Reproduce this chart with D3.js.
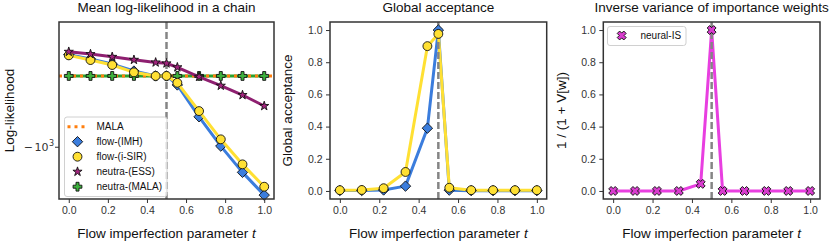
<!DOCTYPE html>
<html>
<head>
<meta charset="utf-8">
<script src="https://cdn.jsdelivr.net/npm/d3@7"></script>
<style>
  body { margin: 0; background: #fff; }
  svg { font-family: "Liberation Sans", Arial, sans-serif; }
</style>
</head>
<body>
<svg id="chart" width="830" height="242"></svg>
<script>
// flow imperfection parameter t
var tValues = [0, 1/9, 2/9, 3/9, 4/9, 0.5, 5/9, 6/9, 7/9, 8/9, 1];

// panel 1: mean log-likelihood
var malaLevel = -521;
var llIMH = [-428, -446, -467, -498, -521, -521, -566, -759, -994, -1266, -1561];
var llSIR = [-431, -450, -471, -504, -521, -521, -555, -720, -934, -1176, -1445];
var llESS = [-417, -426, -437, -449, -460, -464, -481, -525, -570, -621, -687];
var llNeutraMALA = [-521, -521, -521, -521, -521, -521, -521, -521, -521, -521, -521];

// panel 2: global acceptance
var accIMH = [0.003, 0.003, 0.006, 0.03, 0.39, 1.0, 0.005, 0.002, 0.002, 0.002, 0.002];
var accSIR = [0.005, 0.006, 0.017, 0.118, 0.90, 0.976, 0.02, 0.005, 0.005, 0.005, 0.005];

// panel 3: inverse variance of importance weights
var invVarIS = [0, 0, 0, 0, 0.044, 1.0, 0, 0, 0, 0, 0];

var xTicks = [0, 0.2, 0.4, 0.6, 0.8, 1.0];
var unitTicks = [0, 0.2, 0.4, 0.6, 0.8, 1.0];

var C = {
  blue: "#3b7ddd", yellow: "#ffe033", purple: "#8e1f70",
  green: "#2ca02c", orange: "#ff7f0e", magenta: "#e83fe0", frame: "#333"
};

var svg = d3.select("#chart");
var plotTop = 22, plotBottom = 199;

// marker paths
function diamondPath(r) { return "M0," + (-r) + "L" + r + ",0L0," + r + "L" + (-r) + ",0Z"; }
function plusPath(a, b) {
  return "M" + (-b) + "," + (-a) + "H" + b + "V" + (-b) + "H" + a + "V" + b + "H" + b + "V" + a +
    "H" + (-b) + "V" + b + "H" + (-a) + "V" + (-b) + "H" + (-b) + "Z";
}
var markers = {
  diamond: { d: diamondPath(5.2) },
  circle: { d: d3.symbol(d3.symbolCircle, 62)() },
  star: { d: d3.symbol(d3.symbolStar, 26)() },
  plus: { d: plusPath(4.4, 1.5) },
  cross: { d: plusPath(4.6, 1.7), rot: 45 }
};

function makePanel(left, right, yScale, opts) {
  var x = d3.scaleLinear().domain([-0.05, 1.05]).range([left, right]);
  var g = svg.append("g");

  g.append("text").attr("x", (left + right) / 2).attr("y", 12)
    .attr("text-anchor", "middle").attr("font-size", 13.5).attr("fill", "#111")
    .text(opts.title);

  var xAxis = g.append("g").attr("transform", "translate(0," + plotBottom + ")")
    .call(d3.axisBottom(x).tickValues(xTicks).tickFormat(d3.format(".1f")).tickSize(4).tickPadding(4));
  var yAxis = g.append("g").attr("transform", "translate(" + left + ",0)")
    .call(d3.axisLeft(yScale).tickValues(opts.yTicks).tickFormat(opts.yFormat).tickSize(4).tickPadding(3.5));
  [xAxis, yAxis].forEach(function(a) {
    a.select(".domain").remove();
    a.selectAll(".tick line").attr("stroke", C.frame).attr("stroke-width", 1);
    a.selectAll(".tick text").attr("font-size", 10.5).attr("fill", "#333")
      .attr("font-family", "Liberation Sans, Arial, sans-serif");
  });

  g.append("text").attr("x", (left + right) / 2).attr("y", 238)
    .attr("text-anchor", "middle").attr("font-size", 13.5).attr("fill", "#111")
    .call(function(t) {
      t.append("tspan").text("Flow imperfection parameter ");
      t.append("tspan").attr("font-style", "italic").text("t");
    });

  g.append("text")
    .attr("transform", "translate(" + opts.yLabelX + "," + (plotTop + plotBottom) / 2 + ") rotate(-90)")
    .attr("text-anchor", "middle").attr("font-size", 13.5).attr("fill", "#111")
    .text(opts.yLabel);

  var plot = g.append("g");
  return { x: x, y: yScale, g: g, plot: plot, left: left, right: right };
}

function drawLine(p, vals, color, width, dash) {
  var line = d3.line().x(function(d, i) { return p.x(tValues[i]); }).y(function(d) { return p.y(d); });
  p.plot.append("path").datum(vals).attr("d", line).attr("fill", "none")
    .attr("stroke", color).attr("stroke-width", width).attr("stroke-linejoin", "round")
    .attr("stroke-dasharray", dash || null);
}

function drawMarkers(p, vals, type, fill) {
  var m = markers[type];
  p.plot.append("g").selectAll("path").data(vals).join("path")
    .attr("d", m.d)
    .attr("transform", function(d, i) {
      return "translate(" + p.x(tValues[i]) + "," + p.y(d) + ")" + (m.rot ? " rotate(" + m.rot + ")" : "");
    })
    .attr("fill", fill).attr("stroke", "#111").attr("stroke-width", 0.9);
}

function drawVLine(p) {
  p.plot.append("line").attr("x1", p.x(0.5)).attr("x2", p.x(0.5)).attr("y1", plotTop).attr("y2", plotBottom)
    .attr("stroke", "#858585").attr("stroke-width", 2.5).attr("stroke-dasharray", "7,3");
}

function drawFrame(p) {
  p.g.append("rect").attr("x", p.left).attr("y", plotTop)
    .attr("width", p.right - p.left).attr("height", plotBottom - plotTop)
    .attr("fill", "none").attr("stroke", C.frame).attr("stroke-width", 1.5);
}

function legendBox(g, x, y, w, h) {
  g.append("rect").attr("x", x).attr("y", y).attr("width", w).attr("height", h).attr("rx", 2.5)
    .attr("fill", "#fff").attr("fill-opacity", 0.8).attr("stroke", "#d0d0d0").attr("stroke-width", 1);
}

function legendMarker(g, cx, cy, type, fill) {
  var m = markers[type];
  g.append("path").attr("d", m.d)
    .attr("transform", "translate(" + cx + "," + cy + ")" + (m.rot ? " rotate(" + m.rot + ")" : ""))
    .attr("fill", fill).attr("stroke", "#111").attr("stroke-width", 0.9);
}

// ---------- panel 1 ----------
var yLL = d3.scaleLog().domain([-317, -1618]).range([plotTop, plotBottom]);
var p1 = makePanel(59, 274, yLL, {
  title: "Mean log-likelihood in a chain", yLabel: "Log-likelihood", yLabelX: 14,
  yTicks: [-1000], yFormat: function() { return ""; }
});
// −10³ label with superscript (mathtext style)
p1.g.append("text").attr("x", 54).attr("y", yLL(-1000) + 4).attr("text-anchor", "end")
  .attr("font-size", 11).attr("fill", "#333").attr("font-family", "DejaVu Sans, sans-serif")
  .call(function(t) {
    t.append("tspan").text("\u2212");
    t.append("tspan").attr("dx", 1.5).text("10");
    t.append("tspan").attr("font-size", 8).attr("dy", -4.5).attr("dx", 0.5).text("3");
  });

drawLine(p1, llNeutraMALA, C.green, 3);
p1.plot.append("line").attr("x1", p1.left).attr("x2", p1.right)
  .attr("y1", yLL(malaLevel)).attr("y2", yLL(malaLevel))
  .attr("stroke", C.orange).attr("stroke-width", 3).attr("stroke-dasharray", "3,4");
drawVLine(p1);
drawMarkers(p1, llNeutraMALA, "plus", "#3db13d");
drawLine(p1, llIMH, C.blue, 3);
drawMarkers(p1, llIMH, "diamond", C.blue);
drawLine(p1, llSIR, C.yellow, 3);
drawMarkers(p1, llSIR, "circle", C.yellow);
drawLine(p1, llESS, C.purple, 3);
drawMarkers(p1, llESS, "star", "#a4247f");
drawFrame(p1);

var lg1 = p1.g.append("g");
legendBox(lg1, 64.5, 117, 102.5, 79.5);
var legendItems = [
  { label: "MALA", type: null },
  { label: "flow-(IMH)", type: "diamond", fill: C.blue },
  { label: "flow-(i-SIR)", type: "circle", fill: C.yellow },
  { label: "neutra-(ESS)", type: "star", fill: "#a4247f" },
  { label: "neutra-(MALA)", type: "plus", fill: "#3db13d" }
];
legendItems.forEach(function(it, i) {
  var cy = 126.7 + i * 15;
  if (it.type) legendMarker(lg1, 77.5, cy, it.type, it.fill);
  else lg1.append("line").attr("x1", 67.5).attr("x2", 88.5).attr("y1", cy).attr("y2", cy)
    .attr("stroke", C.orange).attr("stroke-width", 3).attr("stroke-dasharray", "3,4");
  lg1.append("text").attr("x", 96.5).attr("y", cy + 3.6).attr("font-size", 10).attr("fill", "#111").text(it.label);
});

// ---------- panel 2 ----------
var yAcc = d3.scaleLinear().domain([-0.05, 1.05]).range([plotBottom, plotTop]);
var p2 = makePanel(330, 546.7, yAcc, {
  title: "Global acceptance", yLabel: "Global acceptance", yLabelX: 292,
  yTicks: unitTicks, yFormat: d3.format(".1f")
});
drawLine(p2, accIMH, C.blue, 3);
drawLine(p2, accSIR, C.yellow, 3);
drawVLine(p2);
drawMarkers(p2, accIMH, "diamond", C.blue);
drawMarkers(p2, accSIR, "circle", C.yellow);
drawFrame(p2);

// ---------- panel 3 ----------
var yInv = d3.scaleLinear().domain([-0.05, 1.05]).range([plotBottom, plotTop]);
var p3 = makePanel(603.3, 820, yInv, {
  title: "Inverse variance of importance weights", yLabel: "1 / (1 + V[w])", yLabelX: 566,
  yTicks: unitTicks, yFormat: d3.format(".1f")
});
drawLine(p3, invVarIS, C.magenta, 3);
drawVLine(p3);
drawMarkers(p3, invVarIS, "cross", "#d93ccf");
drawFrame(p3);

var lg3 = p3.g.append("g");
legendBox(lg3, 607.5, 26.5, 78.5, 19);
legendMarker(lg3, 621.7, 35.5, "cross", "#d93ccf");
lg3.append("text").attr("x", 640.5).attr("y", 39.2).attr("font-size", 10).attr("fill", "#111").text("neural-IS");
</script>
</body>
</html>
